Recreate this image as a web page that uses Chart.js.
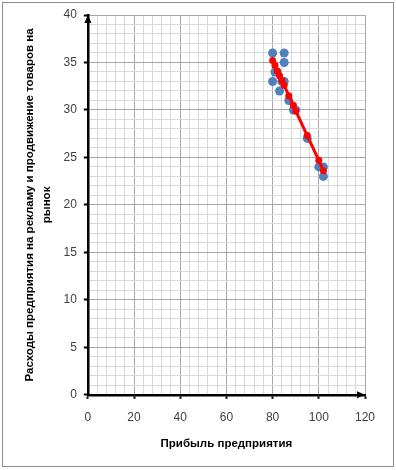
<!DOCTYPE html>
<html>
<head>
<meta charset="utf-8">
<script src="https://cdn.jsdelivr.net/npm/chart.js@4/dist/chart.umd.min.js"></script>
<style>
  html, body { margin: 0; padding: 0; background: #fff; }
  #wrap { width: 396px; height: 470px; position: relative; }
</style>
</head>
<body>
<div id="wrap"><canvas id="profitChart"></canvas></div>
<script>
// observed values: profit vs. advertising spend
const profit = [80, 85, 85, 81, 82, 80, 84, 85, 83, 87, 89, 90, 95, 100, 102, 102];
const spend  = [36, 36, 35, 34, 34, 33, 33, 33, 32, 31, 30, 30, 27, 24, 24, 23];

// fitted (trend) values, red line
const fitX = [80, 81, 82, 83, 84, 85, 87, 89, 90, 95, 100, 102];
const fitY = [35.2, 34.7, 34.1, 33.6, 33.1, 32.6, 31.5, 30.5, 29.9, 27.3, 24.7, 23.6];

const xTitle = 'Прибыль предприятия';
const yTitle = ['Расходы предприятия на рекламу и продвижение товаров на', 'рынок'];

const MAJOR = '#a6a6a6';
const MINOR = '#d9d9d9';

// outer frame + axis arrowheads
const framePlugin = {
    id: 'frame',
    afterDraw(chart) {
        const c = chart.ctx;
        const a = chart.chartArea;
        c.save();
        c.strokeStyle = '#8c8c8c';
        c.lineWidth = 1;
        c.strokeRect(2.5, 2.5, chart.width - 5, chart.height - 6);
        c.fillStyle = '#000';
        // y arrow
        c.beginPath();
        c.moveTo(a.left, a.top);
        c.lineTo(a.left - 3.5, a.top + 8);
        c.lineTo(a.left + 3.5, a.top + 8);
        c.closePath();
        c.fill();
        // x arrow
        c.beginPath();
        c.moveTo(a.right, a.bottom);
        c.lineTo(a.right - 8, a.bottom - 3.5);
        c.lineTo(a.right - 8, a.bottom + 3.5);
        c.closePath();
        c.fill();
        c.restore();
    }
};

new Chart(document.getElementById('profitChart'), {
    type: 'scatter',
    data: {
        datasets: [{
            type: 'line',
            data: fitX.map((x, i) => ({ x: x, y: fitY[i] })),
            borderColor: '#ff0000',
            backgroundColor: '#ff0000',
            borderWidth: 3,
            pointRadius: 3.5,
            pointBorderWidth: 0,
            tension: 0
        }, {
            data: profit.map((x, i) => ({ x: x, y: spend[i] })),
            backgroundColor: '#4f81bd',
            borderColor: '#4f81bd',
            pointRadius: 4.5,
            pointBorderWidth: 0
        }]
    },
    options: {
        responsive: true,
        maintainAspectRatio: false,
        animation: false,
        layout: { padding: { left: 21, right: 31, top: 15, bottom: 19 } },
        plugins: { legend: { display: false }, tooltip: { enabled: false } },
        scales: {
            x: {
                type: 'linear',
                min: 0, max: 120,
                border: { color: '#000', width: 2.5 },
                grid: {
                    color: ctx => ctx.tick.value % 20 === 0 ? MAJOR : MINOR,
                    tickColor: ctx => ctx.tick.value % 20 === 0 ? '#000' : 'rgba(0,0,0,0)',
                    tickLength: 4,
                    tickWidth: 2
                },
                ticks: {
                    stepSize: 4,
                    autoSkip: false,
                    maxRotation: 0,
                    padding: 12,
                    color: '#404040',
                    font: { family: 'Liberation Sans', size: 12 },
                    callback: v => v % 20 === 0 ? String(v) : ''
                },
                title: {
                    display: true,
                    text: xTitle,
                    color: '#000',
                    padding: { top: 0, bottom: 0 },
                    font: { family: 'Liberation Sans', size: 11.5, weight: 'bold' }
                }
            },
            y: {
                type: 'linear',
                min: 0, max: 40,
                border: { color: '#000', width: 2.5 },
                grid: {
                    color: ctx => ctx.tick.value % 5 === 0 ? MAJOR : MINOR,
                    tickColor: ctx => ctx.tick.value % 5 === 0 ? '#000' : 'rgba(0,0,0,0)',
                    tickLength: 4,
                    tickWidth: 2
                },
                ticks: {
                    stepSize: 1,
                    autoSkip: false,
                    padding: 7,
                    color: '#404040',
                    font: { family: 'Liberation Sans', size: 12 },
                    callback: v => v % 5 === 0 ? String(v) : ''
                },
                title: {
                    display: true,
                    text: yTitle,
                    color: '#000',
                    padding: { top: 0, bottom: 1 },
                    font: { family: 'Liberation Sans', size: 11.5, weight: 'bold', lineHeight: 1.5 }
                }
            }
        }
    },
    plugins: [framePlugin]
});
</script>
</body>
</html>
